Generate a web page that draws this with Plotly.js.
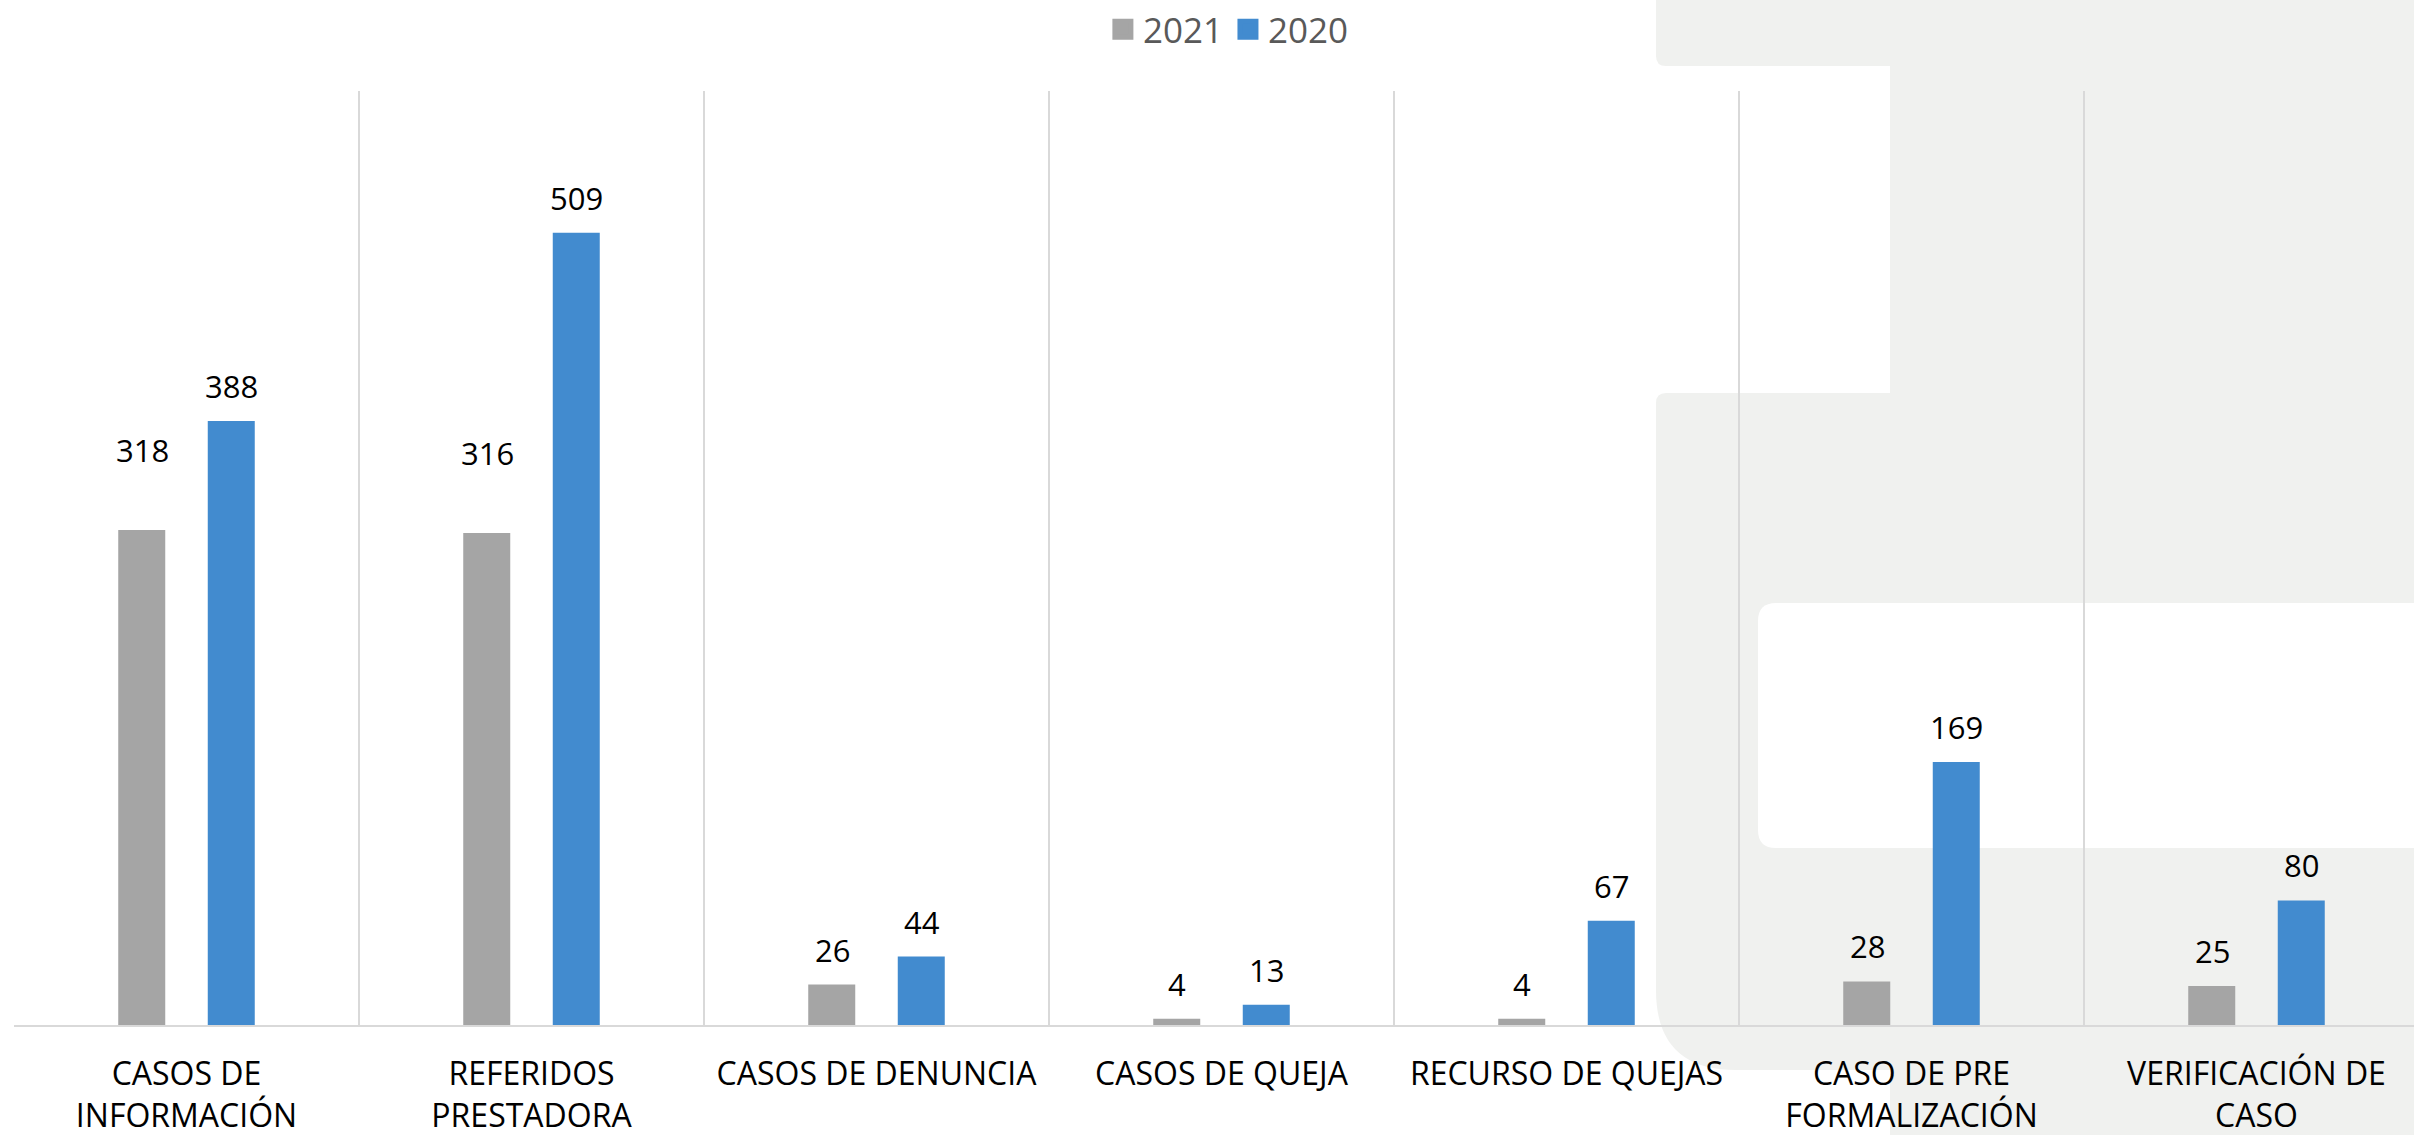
<!DOCTYPE html>
<html>
<head>
<meta charset="utf-8">
<script src="https://cdn.plot.ly/plotly-3.0.1.min.js"></script>
<style>
  html, body { margin: 0; padding: 0; background: #ffffff; }
  #chart { width: 2414px; height: 1135px; }
</style>
</head>
<body>
<div id="chart"></div>
<script>
// ---- Data ----
const categories = [
  "CASOS DE<br>INFORMACIÓN",
  "REFERIDOS<br>PRESTADORA",
  "CASOS DE DENUNCIA",
  "CASOS DE QUEJA",
  "RECURSO DE QUEJAS",
  "CASO DE PRE<br>FORMALIZACIÓN",
  "VERIFICACIÓN DE<br>CASO"
];
const series2021 = [318, 316, 26, 4, 4, 28, 25];
const series2020 = [388, 509, 44, 13, 67, 169, 80];
const seriesNames = ["2021", "2020"];

// ---- Styling ----
const FONT = "Open Sans, Noto Sans, sans-serif";
const GRAY = "#a5a5a5";
const BLUE = "#428bcf";
const BG_GRAY = "#f0f1ef";

const W = 2414, H = 1135;
const ML = 14, MR = 0, MT = 91, MB = 110;
const PW = W - ML - MR, PH = H - MT - MB;

// extra vertical lift (px) of some 2021 labels, as placed in the original
const lift2021 = [45, 45, 0, 0, 0, 0, 0];

// pixel -> paper helpers for decorative background shapes
const px = x => (x - ML) / PW;
const py = y => (H - MB - y) / PH;

function roundRect(x0, y0, x1, y1, r) {
  const [tl, tr, br, bl] = r;
  let d = "";
  d += `M ${px(x0 + tl)} ${py(y0)}`;
  d += ` L ${px(x1 - tr)} ${py(y0)}`;
  d += ` Q ${px(x1)} ${py(y0)} ${px(x1)} ${py(y0 + tr)}`;
  d += ` L ${px(x1)} ${py(y1 - br)}`;
  d += ` Q ${px(x1)} ${py(y1)} ${px(x1 - br)} ${py(y1)}`;
  d += ` L ${px(x0 + bl)} ${py(y1)}`;
  d += ` Q ${px(x0)} ${py(y1)} ${px(x0)} ${py(y1 - bl)}`;
  d += ` L ${px(x0)} ${py(y0 + tl)}`;
  d += ` Q ${px(x0)} ${py(y0)} ${px(x0 + tl)} ${py(y0)} Z`;
  return d;
}
function bgShape(path, color) {
  return { type: "path", xref: "paper", yref: "paper", path: path,
           fillcolor: color, line: { width: 0 }, layer: "below" };
}

const shapes = [
  bgShape(roundRect(1656, -20, 2440, 66, [0, 0, 0, 10]), BG_GRAY),
  bgShape(roundRect(1890, -20, 2440, 1160, [0, 0, 0, 0]), BG_GRAY),
  bgShape(roundRect(1656, 393, 2440, 1070, [10, 0, 0, 80]), BG_GRAY),
  bgShape(roundRect(1600, 66, 1890, 393, [0, 16, 16, 0]), "#ffffff"),
  bgShape(roundRect(1758, 603, 2460, 848, [18, 0, 0, 18]), "#ffffff")
];

// ---- Traces ----
const colors = [GRAY, BLUE];
const seriesList = [series2021, series2020];
const traces = [];
seriesList.forEach((s, k) => {
  traces.push({ type: "bar", name: seriesNames[k], x: categories, y: s,
    marker: { color: colors[k] }, showlegend: false, hoverinfo: "skip" });
});
// legend entries with larger square symbols
seriesList.forEach((s, k) => {
  traces.push({ type: "scatter", mode: "markers", name: seriesNames[k], x: [null], y: [null],
    marker: { symbol: "square", color: colors[k], size: 16,
              line: { color: colors[k], width: 5 } }, showlegend: true });
});

// ---- Data labels ----
const annotations = [];
const shifts = [-44.5, 45];
seriesList.forEach((s, k) => {
  s.forEach((v, i) => {
    annotations.push({
      x: categories[i], y: v, xref: "x", yref: "y",
      text: String(v), showarrow: false,
      xshift: shifts[k], yshift: 12 + (k === 0 ? lift2021[i] : 0), yanchor: "bottom",
      font: { family: FONT, size: 31, color: "#000000" }
    });
  });
});

const layout = {
  width: W, height: H,
  margin: { l: ML, r: MR, t: MT, b: MB, pad: 0 },
  paper_bgcolor: "#ffffff",
  plot_bgcolor: "rgba(0,0,0,0)",
  font: { family: FONT, color: "#000000" },
  barmode: "group",
  bargap: 0.481,
  bargroupgap: 0.475,
  showlegend: true,
  legend: {
    orientation: "h", x: 0.506, xanchor: "center", y: 1.066, yanchor: "middle",
    font: { family: FONT, size: 35, color: "#595959" },
    bgcolor: "rgba(0,0,0,0)", traceorder: "normal"
  },
  xaxis: {
    type: "category",
    range: [-0.5, -0.5 + PW / 345],
    tickson: "boundaries",
    showgrid: true, gridcolor: "#d9d9d9", gridwidth: 2,
    showline: true, linecolor: "#d9d9d9", linewidth: 2,
    ticks: "", ticklabelstandoff: 20,
    tickfont: { family: FONT, size: 32, color: "#000000" },
    fixedrange: true
  },
  yaxis: {
    range: [0, 600], visible: false, showgrid: false, zeroline: false, fixedrange: true
  },
  shapes: shapes,
  annotations: annotations
};

Plotly.newPlot("chart", traces, layout, { displayModeBar: false, staticPlot: true });
</script>
</body>
</html>
